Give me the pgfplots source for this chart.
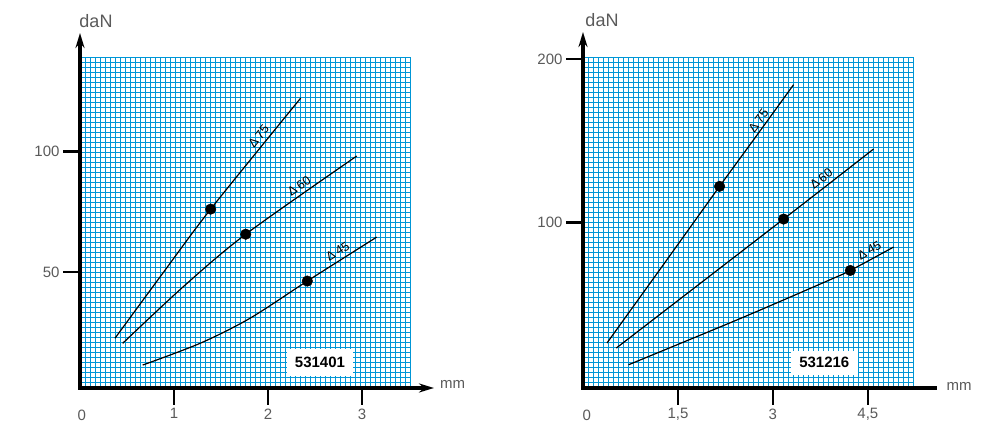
\documentclass[border=0pt]{standalone}
\usepackage{pgfplots}
\pgfplotsset{compat=1.18}
\usepackage{fontspec}
\setmainfont{Liberation Sans}
\usetikzlibrary{arrows.meta}
\definecolor{gridblue}{RGB}{0,150,214}
\definecolor{labgray}{RGB}{90,90,90}

\pgfplotsset{
  chart/.style={
    scale only axis, clip=false, anchor=south west,
    axis line style={draw=none},
    xtick pos=left, ytick pos=left, tick align=outside,
    major tick length=17pt, minor tick length=0pt,
    major tick style={black, line width=2.6pt},
    grid=minor,
    minor grid style={gridblue, line width=1.2pt},
    tick label style={font=\fontsize{15pt}{18pt}\selectfont, text=labgray},
    /pgf/number format/assume math mode=true,
  },
  curve/.style={black, line width=1.2pt, smooth},
  dots/.style={only marks, mark=*, mark size=5.3pt, black},
}
\tikzset{
  lab/.style={font=\fontsize{12.5pt}{15pt}\selectfont, text=black, inner xsep=0pt, inner ysep=4pt, anchor=south},
  idbox/.style={fill=white, inner sep=0pt, font=\bfseries\fontsize{15pt}{18pt}\selectfont},
}

\begin{document}
\begin{tikzpicture}
\useasboundingbox (0,0) rectangle (994pt,435pt);

% ---------------- left chart: 531401 ----------------
\begin{axis}[chart, at={(80pt,47pt)}, width=331pt, height=331pt,
  xmin=0, xmax=3.5213, ymin=2, ymax=139.12,
  xtick={1,2,3}, ytick={50,100},
  minor xtick={0.005319,0.058511,...,3.52},
  minor ytick={2.20713,4.27838,...,139.1}]
\addplot[curve] coordinates {(0.372,22.6) (0.88,49.5) (1.39,76.1) (2.348,122.1)};
\addplot[curve] coordinates {(0.454,20.5) (1.1,44) (1.763,65.7) (2.944,98.1)};
\addplot[curve] coordinates {(0.667,11.5) (1.277,20.5) (1.809,30.9) (2.418,46.3) (3.156,64.5)};
\addplot[dots] coordinates {(1.39,76.1) (1.763,65.7) (2.418,46.3)};
\node[lab, rotate=51] at (axis cs:1.972,104.1) {Δ\kern2.5pt75};
\node[lab, rotate=35] at (axis cs:2.384,82.7) {Δ\kern2.5pt60};
\node[lab, rotate=32] at (axis cs:2.79,55.6) {Δ\kern2.5pt45};
\node[idbox, minimum width=66pt, minimum height=27pt] at (axis cs:2.553,12.6) {531401};
\draw[line width=3.5pt, -{Stealth[length=15pt,width=9pt]}]
  ([yshift=-1.75pt]rel axis cs:0,0) -- ([yshift=24pt]rel axis cs:0,1);
\draw[line width=3.5pt, -{Stealth[length=15pt,width=9pt]}]
  ([xshift=-1.75pt]rel axis cs:0,0) -- ([xshift=23pt]rel axis cs:1,0);
\end{axis}

% ---------------- right chart: 531216 ----------------
\begin{axis}[chart, at={(583pt,47pt)}, width=331pt, height=331pt,
  xmin=0, xmax=5.229, ymin=-1, ymax=201.2,
  xtick={1.5,3,4.5}, xticklabels={{1,5},3,{4,5}}, ytick={100,200},
  minor xtick={0.007899,0.086888,...,5.225},
  minor ytick={-0.694563,2.359805,...,201}]
\addplot[curve] coordinates {(0.379,26.5) (1.327,77.4) (2.158,122.2) (2.749,153.5) (3.327,184.3)};
\addplot[curve] coordinates {(0.526,23.4) (3.169,102.2) (4.591,145)};
\addplot[curve] coordinates {(0.72,13.2) (2.47,41.2) (3.907,65.2) (4.223,70.8) (4.907,85.1)};
\addplot[dots] coordinates {(2.158,122.2) (3.169,102.2) (4.223,70.8)};
\node[lab, rotate=54, inner ysep=2.5pt] at (axis cs:2.864,159.7) {Δ\kern2.5pt75};
\node[lab, rotate=38] at (axis cs:3.847,122.6) {Δ\kern2.5pt60};
\node[lab, rotate=29] at (axis cs:4.588,78.5) {Δ\kern2.5pt45};
\node[idbox, minimum width=66.6pt, minimum height=24.3pt] at (axis cs:3.812,14.4) {531216};
\draw[line width=3.5pt, -{Stealth[length=15pt,width=9pt]}]
  ([yshift=-1.75pt]rel axis cs:0,0) -- ([yshift=25pt]rel axis cs:0,1);
\draw[line width=3.5pt]
  ([xshift=-1.75pt]rel axis cs:0,0) -- ([xshift=23pt]rel axis cs:1,0);
\end{axis}

% ---------------- outside labels ----------------
\node[text=labgray, font=\fontsize{18pt}{21pt}\selectfont] at (96pt,414.3pt) {daN};
\node[text=labgray, font=\fontsize{18pt}{21pt}\selectfont] at (602pt,415pt) {daN};
\node[text=labgray, font=\fontsize{15pt}{18pt}\selectfont] at (452.5pt,51pt) {mm};
\node[text=labgray, font=\fontsize{15pt}{18pt}\selectfont] at (959pt,49pt) {mm};
\node[text=labgray, font=\fontsize{15pt}{18pt}\selectfont] at (81.7pt,20pt) {0};
\node[text=labgray, font=\fontsize{15pt}{18pt}\selectfont] at (586.7pt,20pt) {0};
\end{tikzpicture}
\end{document}
